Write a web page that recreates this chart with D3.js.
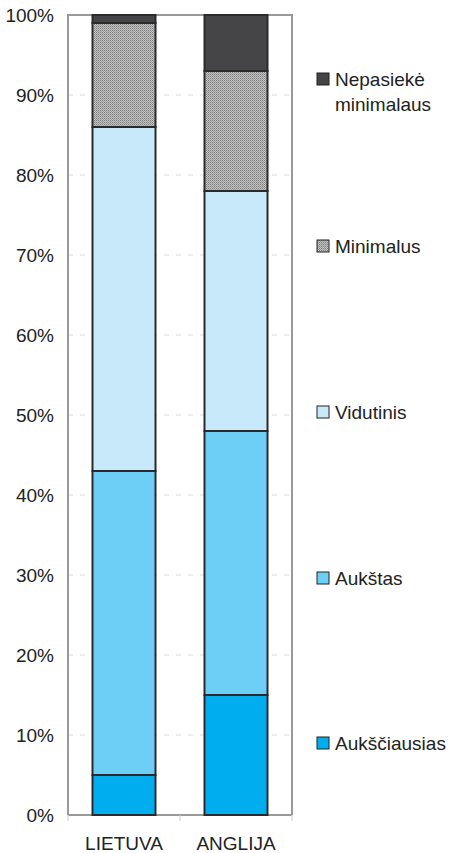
<!DOCTYPE html>
<html><head><meta charset="utf-8">
<script src="https://cdn.jsdelivr.net/npm/d3@7"></script>
<style>
html,body{margin:0;padding:0;background:#fff;}
svg{display:block;}
text{font-family:"Liberation Sans",Arial,sans-serif;fill:#222;}
</style></head>
<body>
<svg id="c" width="450" height="853"></svg>
<script>
const categories = ["LIETUVA", "ANGLIJA"];
const seriesNames = ["Aukščiausias", "Aukštas", "Vidutinis", "Minimalus", "Nepasiekė minimalaus"];
const aukščiausias = [5, 15];
const aukštas = [38, 33];
const vidutinis = [43, 30];
const minimalus = [13, 15];
const nepasieke = [1, 7];
const yTicks = [0, 10, 20, 30, 40, 50, 60, 70, 80, 90, 100];
const colors = ["#00aeef", "#6dcff6", "#c8e9f9", "url(#hatch)", "#454547"];

const seriesValues = [aukščiausias, aukštas, vidutinis, minimalus, nepasieke];
const table = categories.map((c, i) => {
  const o = {cat: c};
  seriesNames.forEach((s, j) => o[s] = seriesValues[j][i]);
  return o;
});

const svg = d3.select("#c");
const defs = svg.append("defs");
const pat = defs.append("pattern").attr("id", "hatch").attr("patternUnits", "userSpaceOnUse")
  .attr("width", 2).attr("height", 2);
pat.append("rect").attr("width", 2).attr("height", 2).attr("fill", "#c2c2c2");
pat.append("rect").attr("x", 0).attr("y", 0).attr("width", 1).attr("height", 1).attr("fill", "#7c7c7c");
pat.append("rect").attr("x", 1).attr("y", 1).attr("width", 1).attr("height", 1).attr("fill", "#9c9c9c");

const L = 68, R = 292, T = 15, B = 815;
const x = d3.scaleBand().domain(categories).range([L, R]).paddingInner(0.4375).paddingOuter(0.21875);
const y = d3.scaleLinear().domain([0, 100]).range([B, T]);

// gridlines
svg.append("g").selectAll("line").data(yTicks.filter(t => t > 0 && t < 100)).join("line")
  .attr("x1", L).attr("x2", R).attr("y1", d => y(d)).attr("y2", d => y(d))
  .attr("stroke", "#dcdcdc").attr("stroke-width", 1).attr("stroke-dasharray", "5,7");

// frame
svg.append("path").attr("d", `M${L},${B}V${T}H${R}V${B}`).attr("fill", "none")
  .attr("stroke", "#9a9a9a").attr("stroke-width", 2);

// x axis
const xa = svg.append("g").attr("transform", `translate(0,${B})`);
xa.append("line").attr("x1", L).attr("x2", R).attr("stroke", "#9a9a9a").attr("stroke-width", 2);
xa.selectAll("line.tk").data([L, (L + R) / 2, R]).join("line").attr("class", "tk")
  .attr("x1", d => d).attr("x2", d => d).attr("y1", 0).attr("y2", 6)
  .attr("stroke", "#d0d0d0").attr("stroke-width", 1);
xa.selectAll("text").data(categories).join("text")
  .attr("x", d => x(d) + x.bandwidth() / 2).attr("y", 35)
  .attr("text-anchor", "middle").attr("font-size", 19)
  .text(d => d);

// y axis labels
svg.append("g").selectAll("text").data(yTicks).join("text")
  .attr("x", 54).attr("y", d => y(d)).attr("dy", "0.36em")
  .attr("text-anchor", "end").attr("font-size", 19)
  .text(d => d + "%");

// stacked bars
const stack = d3.stack().keys(seriesNames)(table);
svg.append("g").selectAll("g").data(stack).join("g")
  .attr("fill", (d, i) => colors[i])
  .selectAll("rect").data(d => d).join("rect")
  .attr("x", d => x(d.data.cat)).attr("width", x.bandwidth())
  .attr("y", d => y(d[1])).attr("height", d => y(d[0]) - y(d[1]))
  .attr("stroke", "#2a2a2c").attr("stroke-width", 2);

// legend
const legendOrder = [4, 3, 2, 1, 0];
const legendY = [79, 246, 412, 578, 743];
const lg = svg.append("g").selectAll("g").data(legendOrder).join("g")
  .attr("transform", (d, i) => `translate(317,${legendY[i]})`);
lg.append("rect").attr("x", 0).attr("y", -6).attr("width", 12).attr("height", 12)
  .attr("fill", d => colors[d]).attr("stroke", "#222").attr("stroke-width", 1);
lg.each(function(d) {
  const g = d3.select(this);
  const words = d === 4 ? ["Nepasiekė", "minimalaus"] : [seriesNames[d]];
  const t = g.append("text").attr("x", 18).attr("y", 0).attr("font-size", 19);
  words.forEach((w, k) => t.append("tspan").attr("x", 18).attr("dy", k === 0 ? "0.36em" : 25).text(w));
});
</script>
</body></html>
